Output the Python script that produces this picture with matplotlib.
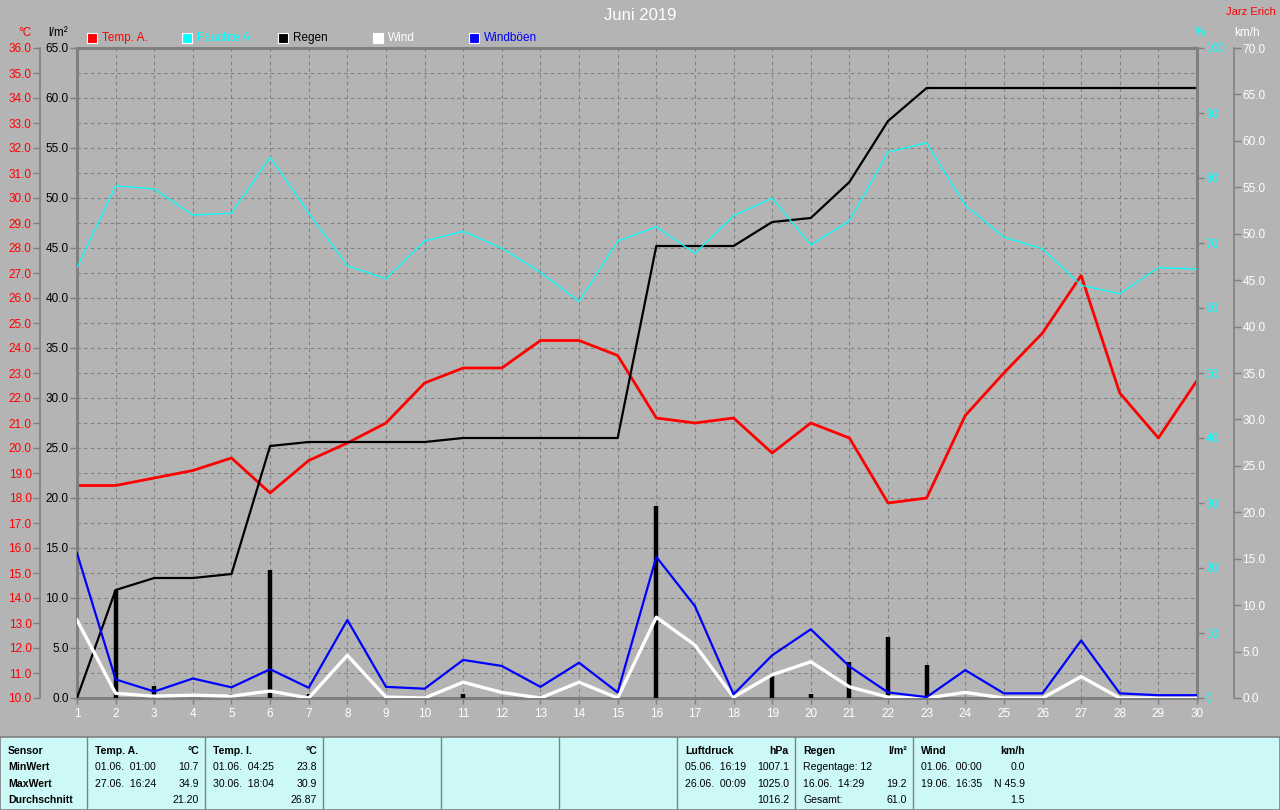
import numpy as np
import matplotlib
matplotlib.use("Agg")
import matplotlib.pyplot as plt
from matplotlib.patches import Rectangle
from matplotlib import font_manager

plt.rcParams['font.family'] = ['Liberation Sans', 'DejaVu Sans']
plt.rcParams['font.size'] = 8

# daily values, June 2019
days = np.arange(1, 31)
temp_a = [18.5, 18.5, 18.8, 19.1, 19.6, 18.2, 19.5, 20.2, 21.0, 22.6,
          23.2, 23.2, 24.3, 24.3, 23.7, 21.2, 21.0, 21.2, 19.8, 21.0,
          20.4, 17.8, 18.0, 21.3, 23.0, 24.6, 26.9, 22.2, 20.4, 22.7]
humidity = [66.2, 78.8, 78.3, 74.3, 74.6, 83.2, 74.6, 66.5, 64.5, 70.3,
            71.8, 69.2, 65.5, 61.0, 70.3, 72.5, 68.4, 74.2, 76.9, 69.7,
            73.4, 84.0, 85.4, 75.8, 70.9, 69.1, 63.5, 62.2, 66.2, 66.0]
rain_daily = [0.0, 10.8, 1.2, 0.0, 0.4, 12.8, 0.4, 0.0, 0.0, 0.0,
              0.4, 0.0, 0.0, 0.0, 0.0, 19.2, 0.0, 0.0, 2.4, 0.4,
              3.6, 6.1, 3.3, 0.0, 0.0, 0.0, 0.0, 0.0, 0.0, 0.0]
wind = [8.4, 0.5, 0.2, 0.3, 0.2, 0.75, 0.0, 4.6, 0.1, 0.0,
        1.7, 0.6, 0.0, 1.7, 0.0, 8.7, 5.7, 0.1, 2.5, 3.9,
        1.2, 0.1, 0.0, 0.6, 0.0, 0.0, 2.3, 0.0, 0.0, 0.0]
gusts = [15.6, 2.0, 0.7, 2.1, 1.15, 3.1, 1.1, 8.4, 1.2, 1.0,
         4.1, 3.45, 1.2, 3.8, 0.6, 15.2, 9.9, 0.4, 4.6, 7.4,
         3.4, 0.6, 0.1, 3.0, 0.5, 0.5, 6.2, 0.5, 0.3, 0.3]
rain_sum = np.cumsum(rain_daily)

legend_names = ['Temp. A.', 'Feuchte A.', 'Regen', 'Wind', 'Windböen']
legend_colors = ['#ff0000', '#00ffff', '#000000', '#ffffff', '#0000ff']

# table text
table_cols = [
    ('Temp. A.', '°C', ['01.06.  01:00', '27.06.  16:24', ''], ['10.7', '34.9', '21.20']),
    ('Temp. I.', '°C', ['01.06.  04:25', '30.06.  18:04', ''], ['23.8', '30.9', '26.87']),
    ('Luftdruck', 'hPa', ['05.06.  16:19', '26.06.  00:09', ''], ['1007.1', '1025.0', '1016.2']),
    ('Regen', 'l/m²', ['Regentage: 12', '16.06.  14:29', 'Gesamt:'], ['', '19.2', '61.0']),
    ('Wind', 'km/h', ['01.06.  00:00', '19.06.  16:35', ''], ['0.0', 'N 45.9', '1.5']),
]
table_x = [95, 213, 685, 803, 921]
row_names = ['Sensor', 'MinWert', 'MaxWert', 'Durchschnitt']

W, H = 1280, 810
BG = '#b4b4b4'
GRID = '#808080'

installed = {f.name for f in font_manager.fontManager.ttflist}
if 'Liberation Sans Narrow' in installed:
    TABLE_FONT = ['Liberation Sans Narrow', 'DejaVu Sans']
    TABLE_SIZE = 9
else:
    TABLE_FONT = ['Liberation Sans', 'DejaVu Sans']
    TABLE_SIZE = 7.6


def fx(x):
    return x / W


def fy(y):
    return 1 - y / H


fig = plt.figure(figsize=(12.8, 8.1), dpi=100, facecolor=BG)
pos = [fx(77), fy(698), fx(1120), 650 / H]

ax_t = fig.add_axes(pos)
ax_t.set_facecolor(BG)
ax_r = fig.add_axes(pos, sharex=ax_t)
ax_h = fig.add_axes(pos, sharex=ax_t)
ax_w = fig.add_axes(pos, sharex=ax_t)
for a in (ax_r, ax_h, ax_w):
    a.patch.set_visible(False)

for a in (ax_t, ax_r, ax_h, ax_w):
    for s in a.spines.values():
        s.set_visible(False)
    a.tick_params(colors=GRID, length=5, width=1)

ax_t.set_xlim(1, 30)
ax_t.set_ylim(10, 36)
ax_r.set_ylim(0, 65)
ax_h.set_ylim(0, 100)
ax_w.set_ylim(0, 70)

# grid
for v in np.arange(11, 36):
    ax_t.axhline(v, color=GRID, lw=0.8, ls=(0, (3, 3)), zorder=0)
for d in days[1:-1]:
    ax_t.axvline(d, color=GRID, lw=0.8, ls=(0, (3, 3)), zorder=0)

# temperature axis (outer left)
ax_t.spines['left'].set_visible(True)
ax_t.spines['left'].set_position(('outward', 37 * 0.72))
ax_t.spines['left'].set_color(GRID)
ax_t.spines['left'].set_linewidth(1.2)
ax_t.set_yticks(np.arange(10, 37, 1))
ax_t.set_yticklabels(['%.1f' % v for v in np.arange(10, 37, 1)])
ax_t.tick_params(axis='y', labelcolor='#ff0000', labelsize=8.5, pad=1)

# x axis
ax_t.set_xticks(days)
ax_t.set_xticklabels([str(d) for d in days])
ax_t.tick_params(axis='x', labelcolor='white', labelsize=8.5, length=4, pad=3)

# rain axis (inner left)
for side in ('left', 'bottom', 'top'):
    ax_r.spines[side].set_visible(True)
    ax_r.spines[side].set_color(GRID)
    ax_r.spines[side].set_linewidth(2.2)
ax_r.set_yticks(np.arange(0, 66, 5))
ax_r.set_yticklabels(['%.1f' % v for v in np.arange(0, 66, 5)])
ax_r.tick_params(axis='y', labelcolor='black', labelsize=8.5, pad=1)
ax_r.tick_params(axis='x', bottom=False, labelbottom=False)

# humidity axis (inner right)
ax_h.yaxis.tick_right()
ax_h.spines['right'].set_visible(True)
ax_h.spines['right'].set_color(GRID)
ax_h.spines['right'].set_linewidth(2.2)
ax_h.set_yticks(np.arange(0, 101, 10))
ax_h.set_yticklabels(['%d' % v for v in np.arange(0, 101, 10)])
ax_h.tick_params(axis='y', labelcolor='#00ffff', labelsize=8.5, pad=1)
ax_h.tick_params(axis='x', bottom=False, labelbottom=False)

# wind axis (outer right)
ax_w.yaxis.tick_right()
ax_w.spines['right'].set_visible(True)
ax_w.spines['right'].set_position(('outward', 37 * 0.72))
ax_w.spines['right'].set_color(GRID)
ax_w.spines['right'].set_linewidth(1.2)
ax_w.set_yticks(np.arange(0, 71, 5))
ax_w.set_yticklabels(['%.1f' % v for v in np.arange(0, 71, 5)])
ax_w.tick_params(axis='y', labelcolor='white', labelsize=8.5, pad=1)
ax_w.tick_params(axis='x', bottom=False, labelbottom=False)

# data
ax_h.plot(days, humidity, color='#00ffff', lw=0.9, zorder=3)
ax_t.plot(days, temp_a, color='#ff0000', lw=2.0, zorder=3)
ax_r.vlines(days, 0, rain_daily, color='black', lw=3.2, zorder=3)
ax_r.plot(days, rain_sum, color='black', lw=1.6, zorder=3)
ax_w.plot(days, wind, color='white', lw=2.4, zorder=3)
ax_w.plot(days, gusts, color='#0000ff', lw=1.6, zorder=4)

# titles / unit labels
fig.text(fx(640), fy(15), 'Juni 2019', color='white', fontsize=12, ha='center', va='center')
fig.text(fx(1276), fy(12), 'Jarz Erich', color='#ff0000', fontsize=8, ha='right', va='center')
fig.text(fx(25), fy(33), '°C', color='#ff0000', fontsize=8.5, ha='center', va='center')
fig.text(fx(58), fy(33), 'l/m²', color='black', fontsize=8.5, ha='center', va='center')
fig.text(fx(1200), fy(33), '%', color='#00ffff', fontsize=8.5, ha='center', va='center')
fig.text(fx(1247), fy(33), 'km/h', color='white', fontsize=8.5, ha='center', va='center')

# legend
leg_x = [87, 182, 278, 373, 469]
for lx, name, col in zip(leg_x, legend_names, legend_colors):
    fig.patches.append(Rectangle((fx(lx), fy(43)), fx(10), 10 / H, facecolor=col,
                                 edgecolor='white', lw=0.8, transform=fig.transFigure))
    fig.text(fx(lx + 15), fy(38), name, color=col, fontsize=8.5, ha='left', va='center')

# statistics table
fig.patches.append(Rectangle((0, 0), 1, 73 / H, facecolor='#ccf8f8', edgecolor=GRID,
                             lw=1.2, transform=fig.transFigure))
for sx in [87, 205, 323, 441, 559, 677, 795, 913]:
    fig.add_artist(plt.Line2D([fx(sx), fx(sx)], [0, 73 / H], color=GRID, lw=1,
                              transform=fig.transFigure))
row_y = [751, 767, 784, 800]
tkw = dict(family=TABLE_FONT, fontsize=TABLE_SIZE, va='center')
for ry, rn in zip(row_y, row_names):
    fig.text(fx(8), fy(ry), rn, fontweight='bold', **tkw)
for tx, (head, unit, left_txt, right_txt) in zip(table_x, table_cols):
    rx = tx + 104
    fig.text(fx(tx), fy(row_y[0]), head, fontweight='bold', **tkw)
    fig.text(fx(rx), fy(row_y[0]), unit, fontweight='bold', ha='right', **tkw)
    for ry, lt, rt in zip(row_y[1:], left_txt, right_txt):
        fig.text(fx(tx), fy(ry), lt, **tkw)
        fig.text(fx(rx), fy(ry), rt, ha='right', **tkw)

fig.savefig('out.png', dpi=100, facecolor=BG)
